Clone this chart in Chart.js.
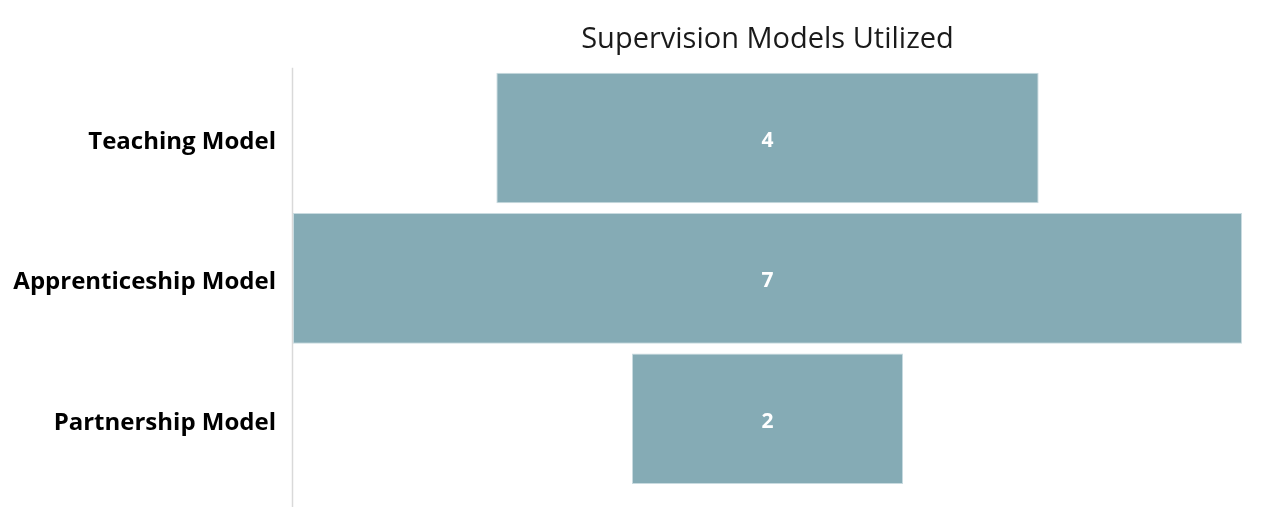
<!DOCTYPE html>
<html>
<head>
<meta charset="utf-8">
<script src="https://cdn.jsdelivr.net/npm/chart.js@4/dist/chart.umd.min.js"></script>
<style>
html,body{margin:0;padding:0;background:#fff;}
#wrap{width:1262px;height:507px;}
</style>
</head>
<body>
<div id="wrap"><canvas id="c" width="1262" height="507"></canvas></div>
<script>
const categories = ["Teaching Model", "Apprenticeship Model", "Partnership Model"];
const values = [4, 7, 2];
const maxValue = 7;
const titleText = "Supervision Models Utilized";

const funnelData = values.map(v => [-v / 2, v / 2]);

const valueLabels = {
  id: 'valueLabels',
  afterDatasetsDraw(chart) {
    const ctx = chart.ctx;
    const meta = chart.getDatasetMeta(0);
    ctx.save();
    ctx.fillStyle = '#ffffff';
    ctx.font = 'bold 21px "Open Sans"';
    ctx.textAlign = 'center';
    ctx.textBaseline = 'middle';
    meta.data.forEach((bar, i) => {
      const p = bar.getProps(['x', 'base', 'y'], true);
      ctx.fillText(String(values[i]), (p.x + p.base) / 2, p.y + 3);
    });
    ctx.restore();
  }
};

const axisLine = {
  id: 'axisLine',
  beforeDatasetsDraw(chart) {
    const ctx = chart.ctx;
    const a = chart.chartArea;
    ctx.save();
    ctx.strokeStyle = '#d9d9d9';
    ctx.lineWidth = 1.5;
    ctx.beginPath();
    ctx.moveTo(a.left - 0.5, a.top);
    ctx.lineTo(a.left - 0.5, 507);
    ctx.stroke();
    ctx.restore();
  }
};

new Chart(document.getElementById('c'), {
  type: 'bar',
  data: {
    labels: categories,
    datasets: [{
      data: funnelData,
      backgroundColor: '#85abb5',
      borderColor: '#c9dbe0',
      borderWidth: 1,
      borderSkipped: false,
      barPercentage: 0.93,
      categoryPercentage: 1.0
    }]
  },
  options: {
    indexAxis: 'y',
    responsive: false,
    animation: false,
    layout: { padding: { top: 13, right: 20, bottom: 18, left: 0 } },
    plugins: {
      legend: { display: false },
      tooltip: { enabled: false },
      title: {
        display: true,
        text: titleText,
        fullSize: false,
        color: '#1a1a1a',
        font: { family: '"Open Sans"', size: 29, weight: 'normal' },
        padding: { top: 9, bottom: 11 }
      }
    },
    scales: {
      x: { display: false, min: -maxValue / 2, max: maxValue / 2 },
      y: {
        afterFit(scale) { scale.width = 293; scale.paddingTop = 0; scale.paddingBottom = 0; },
        grid: { display: false, drawTicks: false },
        border: { display: false },
        ticks: {
          color: '#000000',
          padding: 17,
          labelOffset: 4,
          font: { family: '"Open Sans"', size: 24, weight: 'bold' }
        }
      }
    }
  },
  plugins: [valueLabels, axisLine]
});
</script>
</body>
</html>
